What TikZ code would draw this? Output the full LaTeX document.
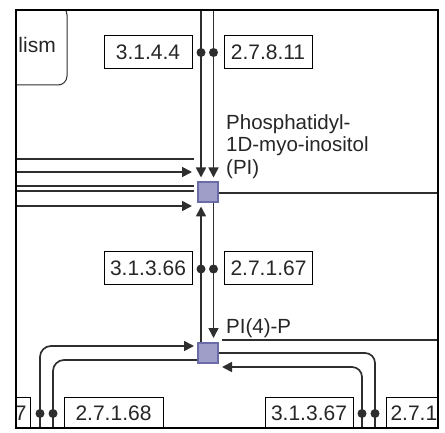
\documentclass[tikz,border=0pt]{standalone}
\usepackage{fontspec}
\setmainfont{Liberation Sans}
\usetikzlibrary{arrows.meta}

\definecolor{cpdfill}{HTML}{9E9EC8}
\definecolor{cpdline}{HTML}{6B6BA8}
\definecolor{linegray}{HTML}{2E2E2E}

\tikzset{
    cpd/.style={draw=cpdline, fill=cpdfill, line width=2pt, minimum size=20pt, inner sep=0pt},
    ecbox/.style={draw=black, line width=1pt, minimum width=88pt, minimum height=33pt,
        inner sep=2pt, font=\fontsize{21}{24}\selectfont, text=black!85},
    link/.style={draw=linegray, line width=1.7pt},
    arr/.style={link, -{Triangle[length=10pt,width=10pt]}},
    lbl/.style={font=\fontsize{20.5}{22.5}\selectfont, text=black!85, inner sep=0pt, align=left}
}

\begin{document}
\begin{tikzpicture}[x=1pt,y=-1pt]
    \useasboundingbox (0,0) rectangle (445,433);

    \begin{scope}
        \clip (16,10) rectangle (438,428);

        % map box, cut by the frame
        \draw[linegray, line width=1pt, rounded corners=9pt] (-40,6) rectangle (67,85);
        \node[lbl, anchor=base east, font=\fontsize{21}{24}\selectfont] (lism) at (56,53) {lism};

        % compounds
        \node[cpd] (pi) at (208,192.5) {};
        \node[cpd] (pip) at (208,353) {};
        \node[lbl, anchor=north west] (pilbl) at (226,114) {Phosphatidyl-\\1D-myo-inositol\\(PI)};
        \node[lbl, anchor=base west] (piplbl) at (226,333) {PI(4)-P};

        % enzymes
        \node[ecbox] (ec1) at (148,52.5) {3.1.4.4};
        \node[ecbox] (ec2) at (268,52.5) {2.7.8.11};
        \node[ecbox] (ec3) at (148,268) {3.1.3.66};
        \node[ecbox] (ec4) at (268.5,268) {2.7.1.67};
        \node[ecbox, anchor=east, text width=80pt, align=right] (ec5) at (31,413.5) {7};
        \node[ecbox, minimum width=99pt] (ec6) at (113.5,413.5) {2.7.1.68};
        \node[ecbox] (ec7) at (309,413.5) {3.1.3.67};
        \node[ecbox, anchor=west, text width=80pt, align=left] (ec8) at (386,413.5) {2.7.1};

        % free ends
        \coordinate (t1) at (201,0);
        \coordinate (t2) at (213.5,0);
        \coordinate (s1) at (40,433);
        \coordinate (s2) at (53,433);
        \coordinate (s3) at (362,433);
        \coordinate (s4) at (375,433);
        \coordinate (r1) at (222,340);
        \coordinate (r2) at (445,340);
        \coordinate (r3) at (445,193);

        % from the top
        \draw[arr, shorten >=4pt] (t1) -- (t1 |- pi.north);
        \draw[arr, shorten >=4pt] (t2) -- (t2 |- pi.north);

        % from the left
        \foreach \y/\s/\g in {159/link/3, 172/arr/5, 186/link/3, 191/link/3, 206/arr/5}
        {
            \draw[\s, shorten >=\g pt] (16,\y) -- (pi.west |- 0,\y);
        }
        \draw[link] (pi.east |- r3) -- (r3);

        % PI <-> PI(4)-P
        \draw[arr, shorten >=3pt] (pip.north -| t1) -- (pi.south -| t1);
        \draw[arr, shorten >=4pt] (pi.south -| t2) -- (pip.north -| t2);

        % below
        \draw[arr, rounded corners=11pt, shorten >=3pt] (s1) |- (pip.west |- 0,346);
        \draw[link, rounded corners=11pt] (pip.west |- 0,360) -| (s2);
        \draw[link] (r1) -- (r2);
        \draw[link, rounded corners=10pt] (pip.east) -| (s4);
        \draw[arr, rounded corners=10pt, shorten >=3pt] (s3) |- (pip.east |- 0,367);

        \foreach \x/\y in {201/52.5, 213.5/52.5, 201/269, 213.5/269, 40/413.5, 53/413.5, 362/413.5, 375/413.5}
        {
            \fill[linegray] (\x,\y) circle (4.5pt);
        }
    \end{scope}

    % frame
    \draw[line width=2pt] (16,10) rectangle (438,428);
\end{tikzpicture}
\end{document}
